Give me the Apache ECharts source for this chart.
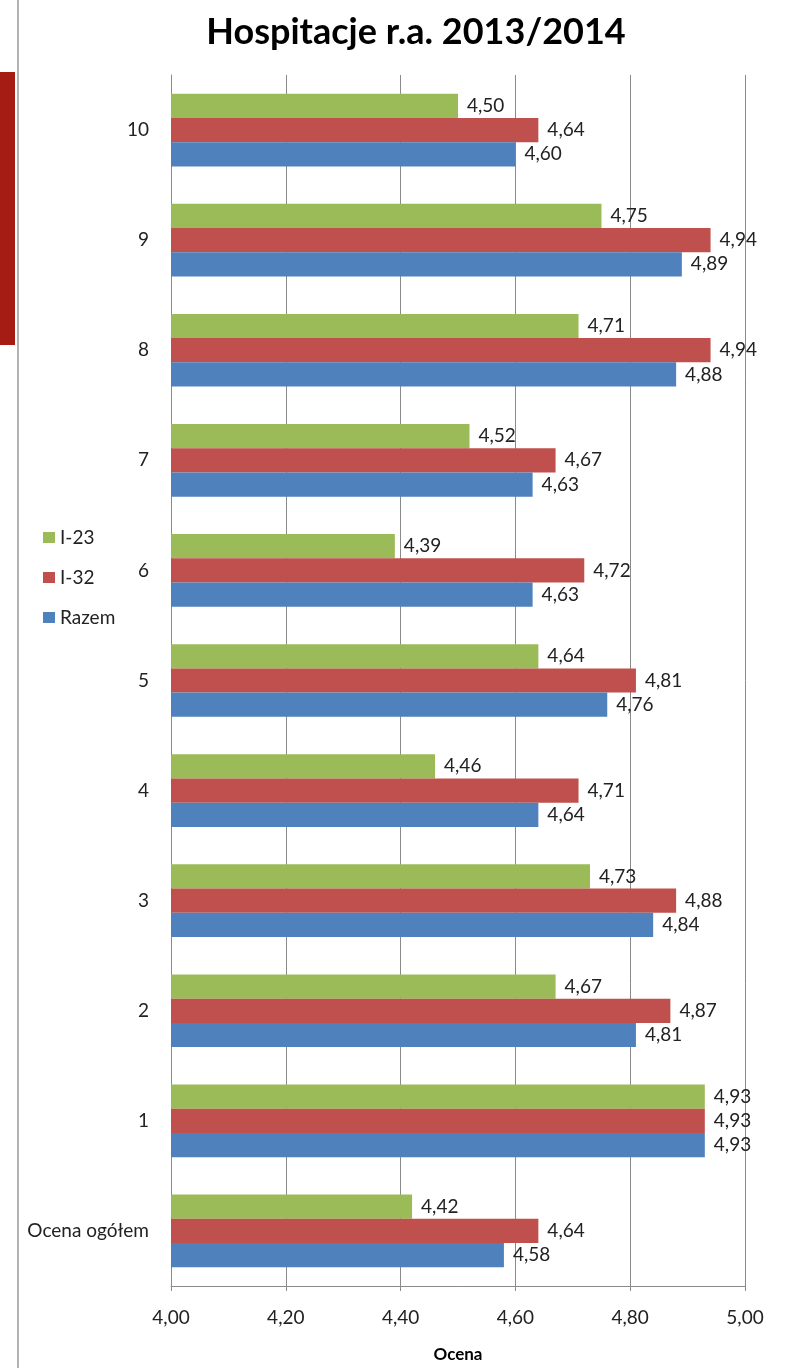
<!DOCTYPE html>
<html><head><meta charset="utf-8">
<script src="https://cdn.jsdelivr.net/npm/echarts@6/dist/echarts.min.js"></script>
<style>html,body{margin:0;padding:0;background:#fff}#c{width:810px;height:1368px}</style>
</head><body><div id="c"></div>
<script>
const categories = ['Ocena ogółem','1','2','3','4','5','6','7','8','9','10'];
const seriesNames = ['I-23','I-32','Razem'];
const i23   = [4.42,4.93,4.67,4.73,4.46,4.64,4.39,4.52,4.71,4.75,4.50];
const i32   = [4.64,4.93,4.87,4.88,4.71,4.81,4.72,4.67,4.94,4.94,4.64];
const razem = [4.58,4.93,4.81,4.84,4.64,4.76,4.63,4.63,4.88,4.89,4.60];
const colors = ['#9BBB59','#C0504D','#4F81BD'];
const FONT = 'Lato';
const chart = echarts.init(document.getElementById('c'), null, {renderer:'canvas'});
const fmt = v => v.toFixed(2).replace('.', ',');
const mk = (name, data, color) => ({
  name, type:'bar', data, barGap:'0%', barCategoryGap:'34%',
  itemStyle:{color},
  label:{show:true, position:'right', distance:9, color:'#222', fontFamily:FONT, fontSize:19,
    formatter:p=>fmt(p.value)}
});
chart.setOption({
  animation:false,
  title:{text:'Hospitacje r.a. 2013/2014', left:411, textAlign:'center', top:9,
    textStyle:{fontFamily:FONT, fontWeight:'bold', fontSize:36, color:'#000'}},
  legend:{orient:'vertical', left:38, top:523, itemWidth:12, itemHeight:11, itemGap:21,
    data:['I-23','I-32','Razem'], icon:'rect',
    textStyle:{fontFamily:FONT, fontSize:19, color:'#222'}},
  graphic:[
    {type:'rect', shape:{x:0,y:72,width:15,height:273}, style:{fill:'#A51C14'}},
    {type:'line', shape:{x1:18,y1:0,x2:18,y2:1368}, style:{stroke:'#9a9a9a', lineWidth:1.5}}
  ],
  grid:{left:171, right:65, top:75, bottom:68},
  xAxis:{type:'value', min:4, max:5, interval:0.2,
    name:'Ocena', nameLocation:'middle', nameGap:60,
    nameTextStyle:{fontFamily:FONT, fontWeight:'bold', fontSize:17, color:'#000'},
    axisLine:{show:true, lineStyle:{color:'#8a8a8a'}},
    axisTick:{show:true, length:5, lineStyle:{color:'#8a8a8a'}},
    axisLabel:{fontFamily:FONT, fontSize:19, color:'#222', margin:22, formatter:v=>fmt(v)},
    splitLine:{show:true, lineStyle:{color:'#8a8a8a', width:1}}},
  yAxis:{type:'category', data:categories,
    axisLine:{show:true, lineStyle:{color:'#8a8a8a'}},
    axisTick:{show:false},
    axisLabel:{fontFamily:FONT, fontSize:19, color:'#222', margin:22}},
  series:[mk(seriesNames[0], i23, colors[0]), mk(seriesNames[1], i32, colors[1]), mk(seriesNames[2], razem, colors[2])]
});
</script></body></html>
